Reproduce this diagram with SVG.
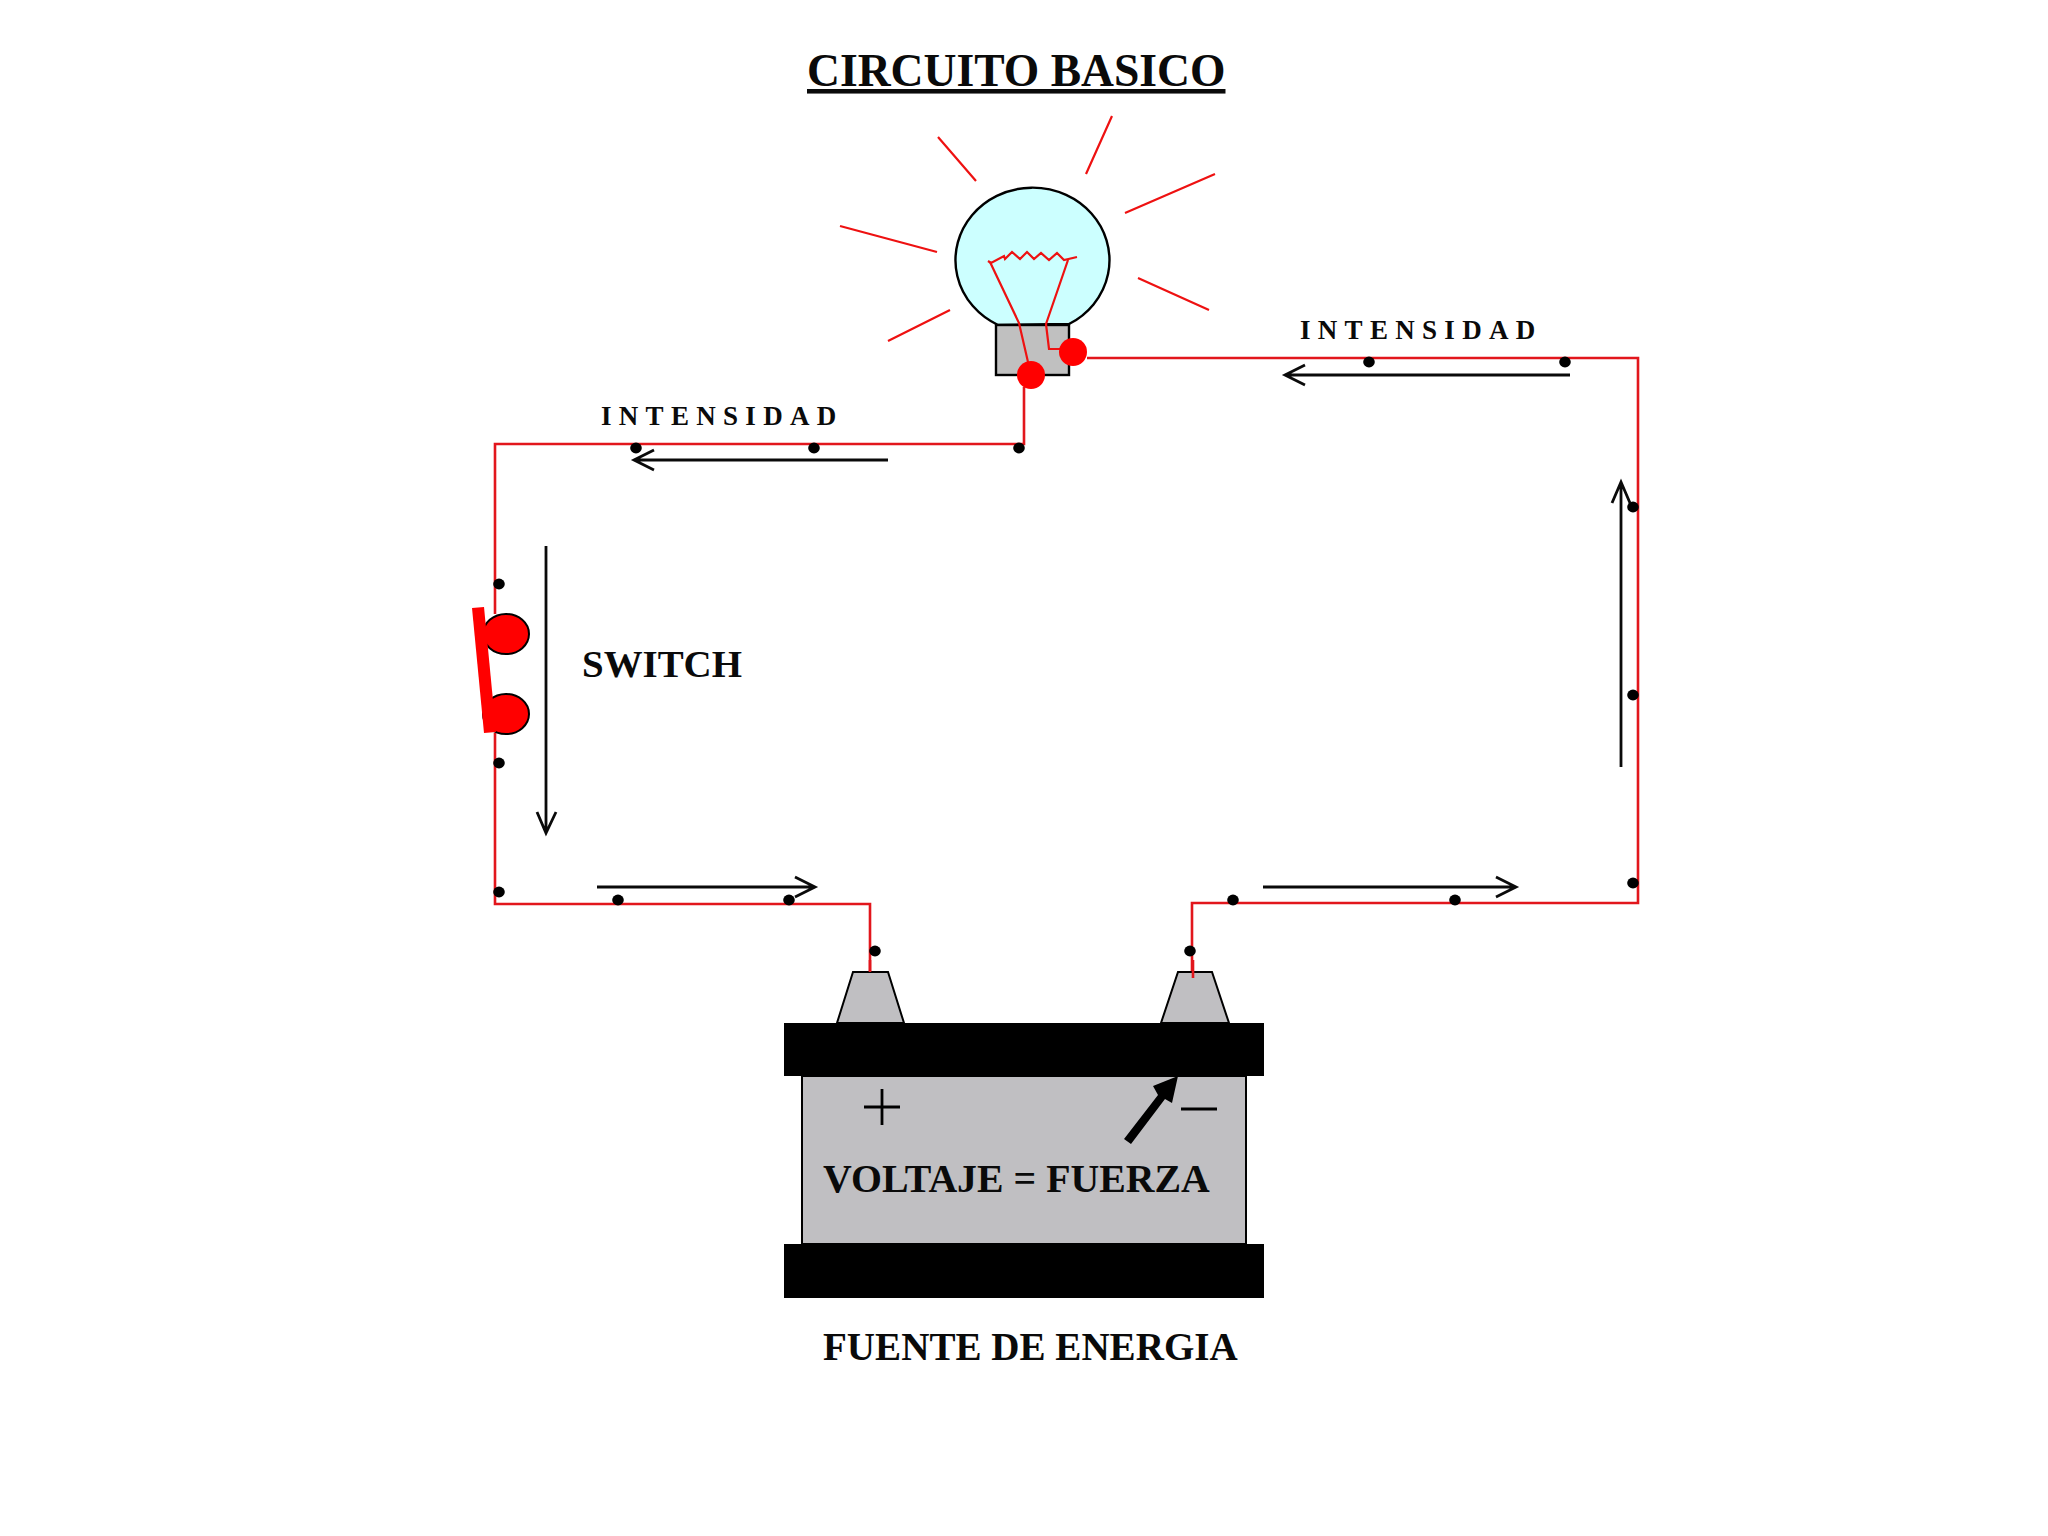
<svg xmlns="http://www.w3.org/2000/svg" width="2048" height="1536" viewBox="0 0 2048 1536">
<defs>
<style>
text{font-family:"Liberation Serif","Times New Roman",serif;font-weight:bold;fill:#0a0a0a}
.w{fill:none;stroke:#e2161c;stroke-width:2.6;stroke-linejoin:miter}
.r{fill:none;stroke:#ee1111;stroke-width:2.2}
.a{fill:none;stroke:#0a0a0a;stroke-width:2.8}
.d{fill:#000}
.sp{font-size:27px;letter-spacing:7.3px}
</style>
</defs>
<rect width="2048" height="1536" fill="#ffffff"/>
<text id="title" x="807" y="86" font-size="45.6" text-decoration="underline">CIRCUITO BASICO</text>
<g id="connectors">
<path class="w" d="M1087 358H1638V903H1192V978"/>
<path class="w" d="M1024 387V444H495V614"/>
<path class="w" d="M495 733V904H870V972"/>
<g id="current-arrows">
<path class="a" d="M888 460H634M654 450L634 460L654 470"/>
<path class="a" d="M1570 375H1285M1305 365L1285 375L1305 385"/>
<path class="a" d="M546 546V833M537 812L546 833L556 812"/>
<path class="a" d="M597 887H815M795 877L815 887L795 897"/>
<path class="a" d="M1263 887H1516M1496 877L1516 887L1496 897"/>
<path class="a" d="M1621 767V482M1612 503L1621 482L1630 503"/>
</g>
<g id="dots" class="d">
<ellipse cx="1019" cy="448" rx="5.8" ry="5.4"/><ellipse cx="814" cy="448" rx="5.8" ry="5.4"/><ellipse cx="636" cy="448" rx="5.8" ry="5.4"/>
<ellipse cx="499" cy="584" rx="5.8" ry="5.4"/><ellipse cx="499" cy="763" rx="5.8" ry="5.4"/><ellipse cx="499" cy="892" rx="5.8" ry="5.4"/>
<ellipse cx="618" cy="900" rx="5.8" ry="5.4"/><ellipse cx="789" cy="900" rx="5.8" ry="5.4"/><ellipse cx="875" cy="951" rx="5.8" ry="5.4"/>
<ellipse cx="1190" cy="951" rx="5.8" ry="5.4"/><ellipse cx="1233" cy="900" rx="5.8" ry="5.4"/><ellipse cx="1455" cy="900" rx="5.8" ry="5.4"/>
<ellipse cx="1633" cy="883" rx="5.8" ry="5.4"/><ellipse cx="1633" cy="695" rx="5.8" ry="5.4"/><ellipse cx="1633" cy="507" rx="5.8" ry="5.4"/>
<ellipse cx="1565" cy="362" rx="5.8" ry="5.4"/><ellipse cx="1369" cy="362" rx="5.8" ry="5.4"/>
</g>
</g>
<g id="bulb">
<path d="M998 325A77 72.500 0 1 1 1069 324Z" fill="#ccffff" stroke="#000" stroke-width="2.4"/>
<rect x="996" y="325" width="73" height="50" fill="#c0c0c0" stroke="#000" stroke-width="2.4"/>
<path class="r" d="M988 261L991 263L1004 256L1005 259L1012 252L1020 259L1027 252L1034 259L1041 253L1049 260L1057 253L1064 260L1077 257"/>
<path class="r" d="M990 262L1019 323L1028 362M1068 260L1046 324L1049 349H1060"/>
<circle cx="1031" cy="375" r="14" fill="#ff0000"/>
<circle cx="1073" cy="352" r="14" fill="#ff0000"/>
<path class="r" d="M938 137L976 181M1112 116L1086 174M1215 174L1125 213M1138 278L1209 310M840 226L937 252M950 310L888 341"/>
</g>
<g id="switch">
<ellipse cx="506" cy="634" rx="23" ry="20" fill="#ff0000" stroke="#000" stroke-width="2"/>
<ellipse cx="506" cy="714" rx="23" ry="20" fill="#ff0000" stroke="#000" stroke-width="2"/>
<path d="M472 608L484 607L496 732L484 733Z" fill="#ff0000"/>
<text x="582" y="677" font-size="38.9">SWITCH</text>
</g>
<g id="battery">
<path d="M853 972H888L904 1023H837Z" fill="#c0bfc2" stroke="#000" stroke-width="2"/>
<path d="M1178 972H1212L1229 1023H1161Z" fill="#c0bfc2" stroke="#000" stroke-width="2"/>
<path class="w" d="M1193 960V978M870 960V972"/>
<rect x="802" y="1076" width="444" height="168" fill="#c0bfc2" stroke="#000" stroke-width="2"/>
<rect x="784" y="1023" width="480" height="53" fill="#000"/>
<rect x="784" y="1244" width="480" height="54" fill="#000"/>
<path d="M864 1107H900M882 1089V1125M1181 1109H1217" fill="none" stroke="#000" stroke-width="2.800"/>
<path d="M1124 1139L1158 1095L1153 1086L1178 1076L1172 1103L1165 1099L1131 1144Z" fill="#000"/>
<text x="823" y="1192" font-size="39.8">VOLTAJE = FUERZA</text>
</g>
<text id="source-label" x="823" y="1360" font-size="39.100">FUENTE DE ENERGIA</text>
<text id="intensity-left" class="sp" x="601" y="425">INTENSIDAD</text>
<text id="intensity-right" class="sp" x="1300" y="339">INTENSIDAD</text>
</svg>
